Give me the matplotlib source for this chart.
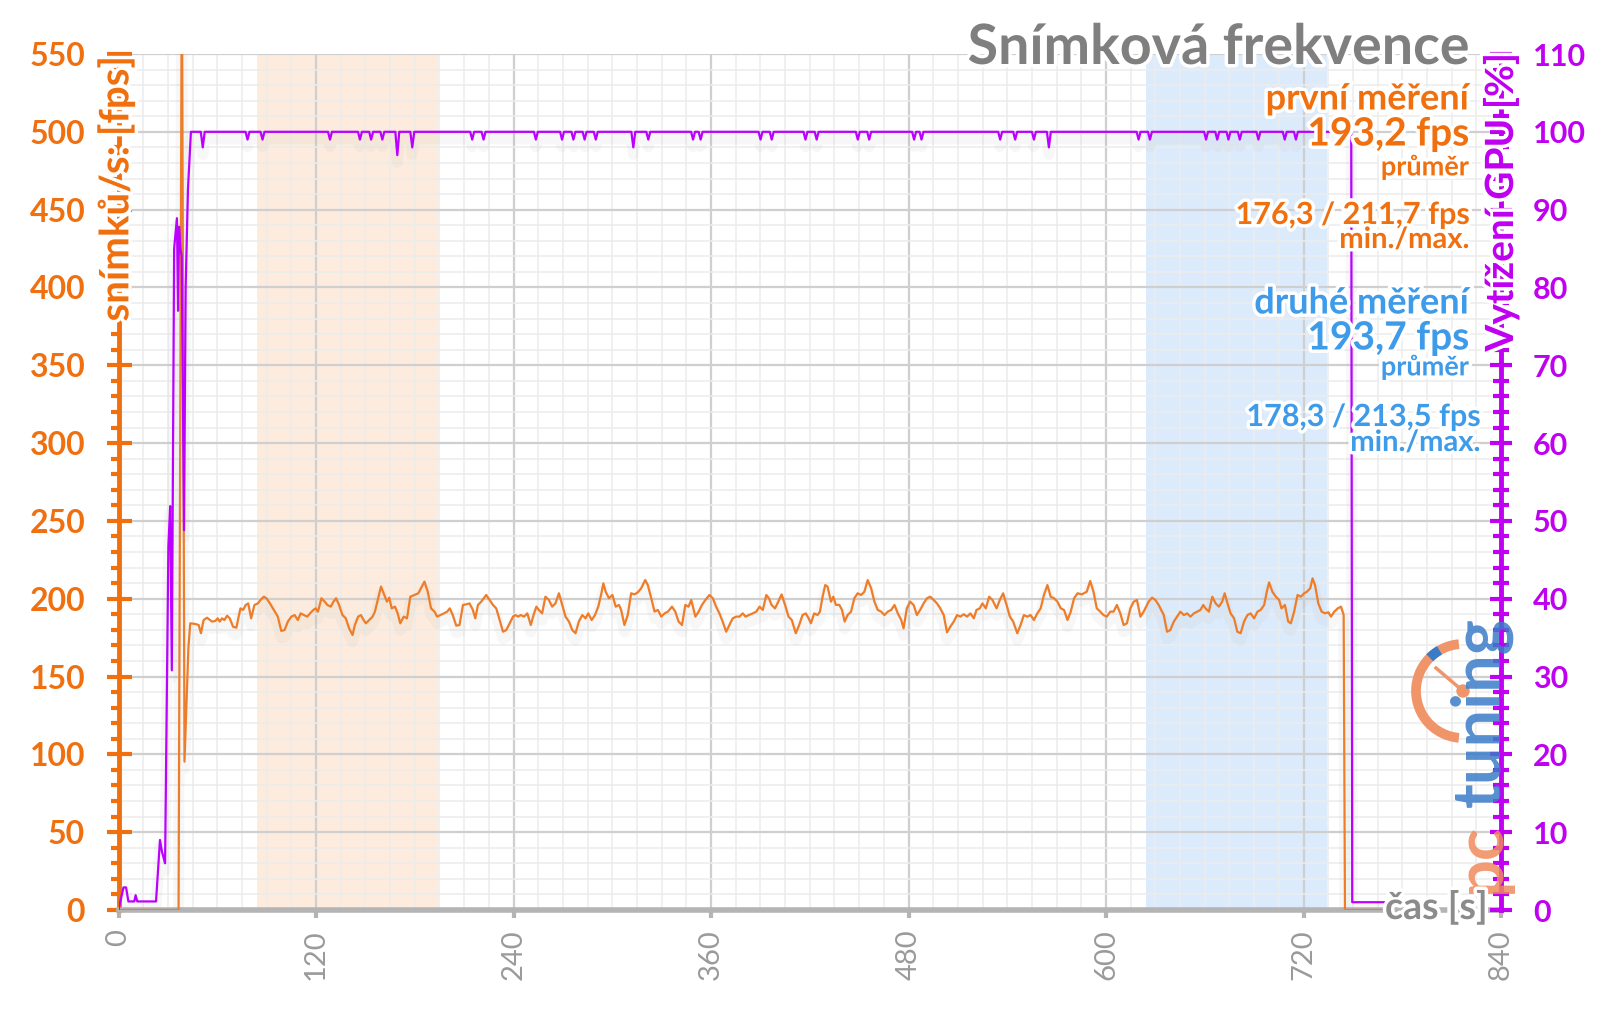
import matplotlib
matplotlib.use("Agg")
import matplotlib.pyplot as plt
import matplotlib.patheffects as pe
from matplotlib.patches import Arc, Circle
from matplotlib.ticker import MultipleLocator

plt.rcParams['font.family'] = ['Lato', 'DejaVu Sans']

ORANGE = '#f0700f'
LINE_OR = '#ee7d2a'
PURPLE = '#c000f0'
LINE_PU = '#bb00ff'
BLUE = '#3d9be9'
GRAY = '#8a8a8a'

# snimkova frekvence (cas [s], fps)
fps_t = [0, 36.5, 38.5, 40.1, 42.5,
         43.6, 46.6, 48.7, 50.1, 51.7, 53.8, 56.8, 58.8, 60.3, 61.5, 62.9, 64.3, 66.0, 67.6, 69.6, 71.6,
         74.1, 75.7, 77.3, 78.8, 80.6, 82.6, 84.7, 86.3, 88.3, 89.9, 92.0, 94.4, 96.8, 98.9, 100.9,
         102.9, 105.0, 107.0, 109.0, 110.7, 112.7, 114.7, 116.4, 118.4, 119.8, 121.2, 123.3, 125.3,
         126.9, 129.0, 130.6, 132.2, 134.0, 136.1, 138.1, 140.1, 142.2, 143.6, 145.6, 147.3, 148.9,
         150.3, 152.3, 154.4, 155.8, 157.8, 159.5, 161.5, 163.1, 164.5, 166.0, 168.0, 169.6, 171.2,
         173.3, 175.3, 177.3, 179.8, 182.2, 183.8, 185.9, 187.9, 189.9, 192.0, 193.6, 195.6, 197.7,
         199.7, 201.3, 203.1, 205.2, 207.2, 209.3, 211.3, 213.3, 215.3, 216.8, 218.4,
         220.4, 223.4, 225.5, 227.5, 229.5, 231.6, 233.6, 235.6, 237.7, 239.7, 241.1, 242.8, 244.4,
         246.4, 248.4, 250.5, 252.5, 253.9, 255.4, 257.4, 259.4, 261.5, 263.5, 265.5, 267.6, 269.6,
         271.6, 273.7, 275.7, 277.7, 279.7, 281.8, 283.8, 285.4, 287.5, 289.5, 291.5, 293.2, 294.6,
         296.0, 298.0, 300.1, 302.1, 304.1, 305.4, 307.4, 309.4, 311.5, 313.5, 315.5, 317.6, 320.0,
         321.6, 323.7, 325.7, 327.7, 329.8, 331.8, 333.8, 336.3, 338.3, 340.3, 342.4, 344.4, 346.4,
         348.0, 350.5, 352.5, 354.5, 356.6, 359.0, 361.1, 363.1, 365.1, 367.1, 369.2, 371.2, 373.2,
         375.3, 377.3, 379.3, 381.0, 383.0, 385.4, 387.5, 389.5, 391.5, 393.6, 395.2, 396.8, 398.9,
         400.9, 402.9,
         405.0, 407.1, 409.1, 411.5, 413.6, 415.6, 417.6, 419.3, 420.7, 422.7, 424.7, 426.2, 427.8,
         429.4, 430.8, 432.9, 434.3, 435.9, 438.0, 439.6, 441.2, 443.0, 445.1, 447.1, 449.1, 451.2,
         453.2, 455.2, 457.3, 459.3, 461.3, 463.4, 465.4, 467.4, 469.5, 471.5, 473.5, 475.6, 477.0,
         479.0, 481.0, 483.1, 485.1, 487.1, 489.2, 491.2, 493.2, 495.3, 497.3, 499.3, 501.4, 503.4,
         505.4, 507.5, 509.5, 511.5, 513.6, 515.6, 517.6, 519.7, 521.3, 523.3, 524.9, 527.0, 529.0,
         531.0, 533.5, 535.5, 537.5, 539.6, 541.6, 543.6, 546.1, 548.1, 550.1, 552.2, 554.2, 556.2,
         558.3, 560.3, 562.3, 564.4, 566.4, 568.4, 570.5, 572.5, 574.5, 576.6, 578.6, 580.6, 582.7,
         585.3,
         588.3, 590.4, 592.4, 594.4, 596.5, 598.5, 600.5, 602.6, 604.6, 606.6, 608.7, 610.7, 612.7,
         614.8, 616.8, 618.8, 620.9, 622.9, 625.9, 628.0, 630.0, 632.0, 635.1, 637.1, 639.1, 641.2,
         643.2, 645.2, 647.3, 649.3, 651.3, 653.4, 655.4, 657.4, 659.1, 660.5, 662.5, 664.6, 666.6,
         668.6, 670.6, 672.1, 674.1, 675.7, 677.8, 679.8, 681.8, 683.9, 685.9, 687.9, 690.0, 692.0,
         694.0, 696.1, 697.7, 699.1, 701.1, 703.2, 705.2, 706.6, 708.7, 710.7, 712.3, 714.3, 716.4,
         718.4, 720.4, 722.1, 724.1, 725.5, 727.0, 729.0, 731.0, 733.1, 735.1, 736.7, 738.7, 740.8,
         742.8, 744.4, 745.2, 771.0]
fps_v = [0, 0, 620, 95.3, 169.0,
         184.2, 183.8, 183.1, 177.8, 186.3, 187.8, 185.3, 185.7, 187.4, 185.3, 187.4, 186.3, 189.1,
         187.4, 182.0, 181.4,
         193.8, 192.8, 196.0, 197.0, 187.4, 196.0, 197.0, 199.2, 201.3, 200.3, 197.0, 192.8, 188.5,
         179.3, 179.9,
         185.3, 188.5, 189.5, 186.3, 190.6, 189.5, 188.5, 190.6, 192.8, 193.8, 191.7, 200.3, 198.1,
         196.0, 194.9, 198.1, 200.3, 196.0, 189.5, 187.4, 181.0, 176.7, 183.1, 188.5, 189.5, 186.3,
         184.2, 186.3, 188.5, 191.7, 200.3, 207.8, 202.4, 198.1, 200.7, 193.8, 194.9, 190.6, 184.2,
         188.5, 187.4, 201.3, 202.4, 203.5, 206.7, 211.0, 204.5, 193.8, 191.7, 188.5, 189.5, 190.6,
         191.7, 193.8, 189.5, 182.7, 183.1, 196.0, 196.4, 197.0, 192.8, 187.4, 196.0,
         198.1, 202.4, 199.2, 196.0, 193.8, 186.3, 178.8, 179.9, 184.2, 188.5, 189.5, 188.5, 189.5,
         188.5, 190.6, 183.1, 190.6, 194.9, 192.8, 190.6, 201.3, 199.2, 194.9, 197.0, 203.5, 196.0,
         188.5, 185.3, 179.9, 177.8, 185.3, 189.5, 187.4, 190.6, 186.3, 189.5, 194.9, 202.4, 209.9,
         204.5, 200.3, 202.4, 194.9, 196.0, 192.8, 183.1, 189.5, 203.5, 202.8, 204.1, 206.7, 212.0,
         208.8, 200.3, 191.7, 192.8, 188.5, 190.6, 191.7, 194.9, 191.7, 185.3, 183.1, 196.0, 194.9,
         199.2, 188.5, 191.7, 196.0, 199.2, 202.4, 200.3, 194.9, 190.6, 185.3, 178.8, 183.1, 187.4,
         188.5, 188.5, 190.6, 188.5, 189.5, 190.6, 191.7, 194.9, 192.8, 202.4, 200.3, 196.0, 193.8,
         198.1, 202.8,
         196.0, 188.5, 186.3, 177.8, 183.1, 189.5, 190.6, 187.4, 184.2, 190.6, 189.5, 191.7, 201.3,
         208.8, 207.8, 198.1, 201.3, 196.0, 196.0, 192.8, 185.3, 189.5, 191.7, 200.3, 203.5, 202.4,
         204.5, 212.0, 206.7, 198.1, 192.8, 191.7, 189.5, 191.7, 192.8, 196.0, 190.6, 186.3, 181.0,
         193.8, 198.1, 196.0, 189.5, 192.8, 197.0, 200.3, 201.3, 199.2, 197.0, 193.8, 189.5, 178.4,
         182.0, 185.3, 189.5, 188.5, 190.0, 188.5, 190.6, 187.4, 192.8, 193.8, 197.0, 193.8, 201.3,
         199.2, 193.8, 199.2, 203.5, 196.0, 188.5, 185.3, 177.8, 183.1, 189.5, 188.5, 189.5, 186.3,
         190.6, 193.8, 202.4, 208.8, 201.3, 200.3, 198.1, 193.8, 192.8, 186.3, 191.7, 200.3, 203.5,
         202.8,
         204.5, 211.4, 204.5, 193.8, 191.7, 189.5, 188.5, 191.7, 191.7, 196.0, 190.6, 183.1, 184.2,
         193.8, 198.1, 199.2, 188.5, 191.7, 198.1, 200.7, 199.2, 196.0, 189.5, 178.8, 179.9, 185.3,
         188.5, 191.7, 189.5, 190.6, 188.5, 190.6, 191.7, 192.8, 196.0, 193.8, 191.7, 201.3, 197.0,
         194.9, 198.1, 203.5, 196.0, 190.6, 187.4, 178.8, 177.8, 185.3, 189.5, 190.6, 187.4, 191.7,
         192.8, 196.0, 204.5, 210.5, 204.5, 201.3, 199.2, 193.8, 196.0, 185.3, 184.2, 191.7, 202.4,
         201.3, 203.5, 204.5, 206.7, 213.1, 208.8, 197.0, 191.7, 190.6, 191.3, 188.5, 191.7, 193.8,
         194.9, 189.5, 0, 0]

# vytizeni GPU [%]: nabeh, kratke poklesy, konec
gpu_start_t = [0, 3.0, 4.6, 6.0, 9.6, 10.4, 11.4, 22.8, 25.2, 26.4, 28.3, 30.3, 31.4, 32.4,
               33.8, 35.5, 36.2, 36.8, 37.6, 38.4, 39.8, 40.8, 42.2, 44.0]
gpu_start_v = [0, 2.9, 2.9, 1.1, 1.1, 1.9, 1.1, 1.1, 9.0, 7.5, 6.0, 46.7, 51.9, 30.8,
               85, 88.9, 77, 87.8, 85, 84, 48.8, 80, 92.6, 100]
gpu_dip_t = [51.2, 78.4, 87.5, 128.5, 146.7, 153.5, 160.3, 169.4, 178.5, 214.9, 221.8, 253.6,
             269.5, 276.4, 283.2, 290.0, 312.8, 321.9, 349.1, 353.7, 390.1, 396.9, 417.4, 424.2,
             449.2, 456.1, 483.4, 487.9, 535.7, 544.8, 556.2, 565.3, 619.8, 626.7, 660.8, 667.6,
             674.4, 681.3, 692.6, 708.6, 715.4]
gpu_dip_v = [98, 99, 99, 99, 99, 99, 99, 97, 98, 99, 99, 99,
             99, 99, 99, 99, 98, 99, 99, 99, 99, 99, 99, 99,
             99, 99, 99, 99, 99, 99, 99, 98, 99, 99, 99, 99,
             99, 99, 99, 99, 99]
gpu_end_t = [749.0, 749.6, 771.0]
gpu_end_v = [100, 1.0, 1.0]

band_first = (84, 194)
band_second = (624, 734)

title = "Snímková frekvence"
first_run = ["první měření", "193,2 fps", "průměr", "176,3 / 211,7 fps", "min./max."]
second_run = ["druhé měření", "193,7 fps", "průměr", "178,3 / 213,5 fps", "min./max."]

# build the GPU line from the read points
gpu_t = list(gpu_start_t)
gpu_v = list(gpu_start_v)
for t, v in zip(gpu_dip_t, gpu_dip_v):
    gpu_t += [t - 1.2, t, t + 1.2]
    gpu_v += [100, v, 100]
gpu_t += gpu_end_t
gpu_v += gpu_end_v

W, H = 1600, 1009
fig = plt.figure(figsize=(16, 10.09), dpi=100)
ax = fig.add_axes([118.5 / W, 1 - 910 / H, (1501 - 118.5) / W, (910 - 54) / H])
ax2 = ax.twinx()

ax.axvspan(*band_first, color='#fde6d2', alpha=0.75, lw=0, zorder=0)
ax.axvspan(*band_second, color='#d6e8fb', alpha=0.85, lw=0, zorder=0)

shadow = [pe.SimpleLineShadow(offset=(0, -5), shadow_color='0.6', alpha=0.07, linewidth=8),
          pe.Normal()]
ax.plot(fps_t, fps_v, color=LINE_OR, lw=1.6, zorder=3, path_effects=shadow)
ax2.plot(gpu_t, gpu_v, color=LINE_PU, lw=1.6, zorder=3, path_effects=shadow)

ax.set_xlim(0, 840)
ax.set_ylim(0, 550)
ax2.set_ylim(0, 110)

ax.xaxis.set_major_locator(MultipleLocator(120))
ax.xaxis.set_minor_locator(MultipleLocator(15))
ax.yaxis.set_major_locator(MultipleLocator(50))
ax.yaxis.set_minor_locator(MultipleLocator(10))
ax2.yaxis.set_major_locator(MultipleLocator(10))
ax2.yaxis.set_minor_locator(MultipleLocator(2))

ax.set_axisbelow(True)
ax.grid(which='major', color='#cfcfcf', lw=1.6)
ax.grid(which='minor', color='#ececec', lw=1.1)

for a in (ax, ax2):
    a.spines['top'].set_visible(False)
ax.spines['right'].set_visible(False)
ax2.spines['left'].set_visible(False)
ax2.spines['bottom'].set_visible(False)
ax.spines['left'].set_color(ORANGE)
ax.spines['left'].set_linewidth(3.5)
ax2.spines['right'].set_color(PURPLE)
ax2.spines['right'].set_linewidth(3.5)
ax.spines['bottom'].set_color('#b4b4b4')
ax.spines['bottom'].set_linewidth(4)

ax.tick_params(axis='y', which='major', direction='inout', length=18, width=3,
               color=ORANGE, labelcolor=ORANGE, labelsize=23, pad=15)
ax.tick_params(axis='y', which='minor', direction='out', length=6, width=3, color=ORANGE)
ax2.tick_params(axis='y', which='major', direction='inout', length=16, width=3,
                color=PURPLE, labelcolor=PURPLE, labelsize=22, pad=15)
ax2.tick_params(axis='y', which='minor', direction='inout', length=12, width=3, color=PURPLE)
ax.tick_params(axis='x', which='major', direction='out', length=6, width=3,
               color='#b4b4b4', labelcolor='#9a9a9a', labelsize=21, pad=8, labelrotation=90)
ax.tick_params(axis='x', which='minor', length=0)

for lab in ax.get_yticklabels() + ax2.get_yticklabels():
    lab.set_fontweight('bold')

glow = [pe.withStroke(linewidth=5, foreground='white')]


def ftext(x, y, s, size, color, **kw):
    kw.setdefault('ha', 'right')
    kw.setdefault('va', 'center')
    fig.text(x / W, 1 - y / H, s, fontsize=size, color=color, fontweight='bold',
             path_effects=glow, zorder=10, **kw)


ftext(116, 56, "snímků/s: [fps]", 29, ORANGE, ha='center', va='top', rotation=90)
ftext(1501, 53, "Vytížení GPU [%]", 28, PURPLE, ha='center', va='top', rotation=90)

ftext(1469, 48, title, 40, '#7f7f7f')

ftext(1469, 99, first_run[0], 26, ORANGE)
ftext(1469, 134, first_run[1], 28, ORANGE)
ftext(1469, 167, first_run[2], 19.5, ORANGE)
ftext(1469, 215, first_run[3], 22, ORANGE)
ftext(1469, 240, first_run[4], 21, ORANGE)

ftext(1469, 303, second_run[0], 26, BLUE)
ftext(1469, 338, second_run[1], 28, BLUE)
ftext(1469, 367, second_run[2], 19.5, BLUE)
ftext(1480, 417, second_run[3], 22, BLUE)
ftext(1480, 443, second_run[4], 21, BLUE)

ftext(1488, 907, "čas [s]", 27, '#8c8c8c')

# logo
fig.text(1481 / W, 1 - 858 / H, "pc", fontsize=48, fontweight='bold', color='#f08a5d',
         rotation=90, ha='center', va='center', alpha=0.85)
fig.text(1481 / W, 1 - 712 / H, "tuning", fontsize=48, fontweight='bold', color='#3a7bc8',
         rotation=90, ha='center', va='center', alpha=0.85)
fig.add_artist(Arc((1463, H - 691), 94, 94, theta1=95, theta2=265, transform=None,
                   color='#f0956a', lw=7))
fig.add_artist(Arc((1463, H - 691), 94, 94, theta1=120, theta2=135, transform=None,
                   color='#3a7bc8', lw=7))
fig.add_artist(plt.Line2D([1436, 1463], [H - 668, H - 691], transform=None,
                          color='#f0956a', lw=2.5))
fig.add_artist(Circle((1463, H - 691), 6, transform=None, color='#f0956a'))

fig.savefig("out.png", dpi=100)
